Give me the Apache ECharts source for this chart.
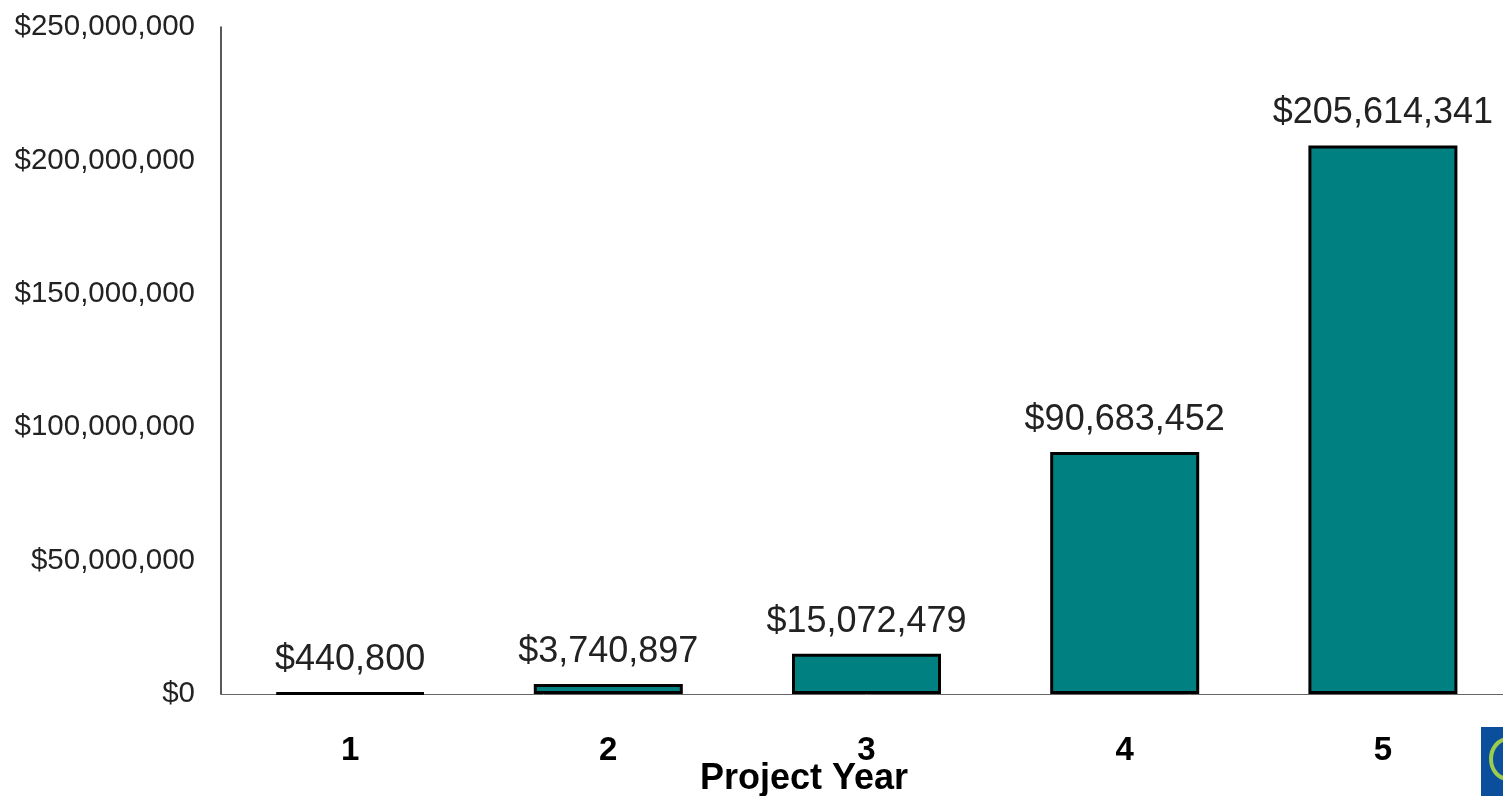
<!DOCTYPE html>
<html>
<head>
<meta charset="utf-8">
<title>Project Year</title>
<script src="https://cdn.jsdelivr.net/npm/echarts@6/dist/echarts.min.js"></script>
<style>
  html, body { margin: 0; padding: 0; background: #ffffff; overflow: hidden; }
  #chart { width: 1512px; height: 796px; }
</style>
</head>
<body>
<div id="chart"></div>
<script>
// Cumulative value by project year
const years = ['1', '2', '3', '4', '5'];
const values = [440800, 3740897, 15072479, 90683452, 205614341];
const yTicks = [0, 50000000, 100000000, 150000000, 200000000, 250000000];

const money = v => '$' + Number(v).toLocaleString('en-US');
const FONT = '"Liberation Sans", Arial, Helvetica, sans-serif';

const chart = echarts.init(document.getElementById('chart'));
chart.setOption({
  animation: false,
  backgroundColor: '#ffffff',
  title: {
    text: 'Project Year',
    left: 804,
    textAlign: 'center',
    top: 761,
    padding: 0,
    textStyle: { fontFamily: FONT, fontSize: 36, fontWeight: 'bold', color: '#000' }
  },
  grid: { left: 221, right: 0, top: 27, height: 667, containLabel: false },
  xAxis: {
    type: 'category',
    data: years,
    axisLine: { lineStyle: { color: '#666', width: 1 } },
    axisTick: { show: false },
    axisLabel: { fontFamily: FONT, fontSize: 33, fontWeight: 'bold', color: '#000', margin: 40 }
  },
  yAxis: {
    type: 'value',
    min: yTicks[0],
    max: yTicks[yTicks.length - 1],
    interval: yTicks[1] - yTicks[0],
    axisLine: { show: true, lineStyle: { color: '#222', width: 1.5 } },
    axisTick: { show: false },
    splitLine: { show: false },
    axisLabel: { fontFamily: FONT, fontSize: 29.5, color: '#222', margin: 26, formatter: money }
  },
  series: [{
    type: 'bar',
    data: values,
    barWidth: 149,
    itemStyle: { color: '#008080', borderColor: '#000', borderWidth: 3 },
    label: {
      show: true,
      position: 'top',
      distance: 14,
      fontFamily: FONT,
      fontSize: 36,
      color: '#222',
      formatter: p => money(p.value)
    }
  }],
  graphic: [
    { type: 'rect', shape: { x: 1481, y: 727, width: 30, height: 80 }, style: { fill: '#0b4f9c' } },
    { type: 'ellipse', shape: { cx: 1508, cy: 759, rx: 17, ry: 20 }, style: { fill: 'none', stroke: '#9ccc4c', lineWidth: 4 } }
  ]
});
</script>
</body>
</html>
